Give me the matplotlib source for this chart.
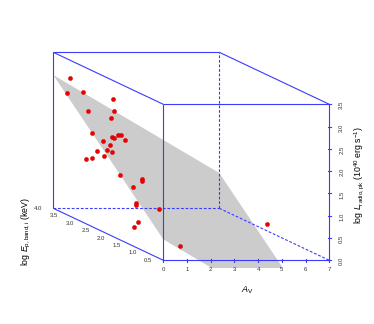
import matplotlib
matplotlib.use("Agg")
import matplotlib.pyplot as plt
from matplotlib.patches import Polygon, Rectangle
import numpy as np

plt.rcParams['font.family'] = ['Liberation Sans', 'DejaVu Sans']
plt.rcParams['mathtext.fontset'] = 'custom'
plt.rcParams['mathtext.rm'] = 'Liberation Sans'
plt.rcParams['mathtext.it'] = 'Liberation Sans:italic'

# ---- data ----
av = [0.3, 0.2, 0.5, 0.4, 0.3, 0.6, 0.3, 0.2, 0.5, 0.3, 0.8, 0.4, 0.2, 0.1, 0.3, 0.6,
      0.2, 0.4, 0.1, 0.3, 0.5, 0.3, 0.2, 0.7, 0.4, 0.3, 0.6, 0.3, 0.4, 0.2, 1.0, 6.1]
log_ep = [3.69, 3.71, 3.43, 2.40, 3.11, 2.51, 2.40, 2.92, 2.50, 2.29, 2.55, 2.14, 1.86, 2.49,
          2.42, 2.73, 2.28, 2.92, 2.84, 3.18, 2.77, 2.09, 1.34, 1.70, 1.77, 1.59, 1.82, 0.85,
          1.61, 1.57, 0.71, 1.79]
log_lr = [3.02, 2.69, 2.81, 2.99, 2.49, 2.69, 2.55, 2.06, 2.10, 2.15, 2.12, 2.26, 2.25, 2.02,
          1.95, 1.74, 1.84, 1.65, 1.52, 1.38, 1.58, 1.38, 1.54, 1.39, 1.23, 0.92, 0.79, 1.03,
          0.48, 0.40, 0.26, 0.38]

# fitted plane: log L = c0 + c_av * Av + c_e * log E
plane_c0, plane_cav, plane_ce = 0.11, -0.314, 0.72

av_lim = (0, 7)
ep_lim = (0.5, 4.0)
lr_lim = (0.0, 3.5)
av_ticks = [0, 1, 2, 3, 4, 5, 6, 7]
ep_ticks = [0.5, 1.0, 1.5, 2.0, 2.5, 3.0, 3.5, 4.0]
lr_ticks = [0.0, 0.5, 1.0, 1.5, 2.0, 2.5, 3.0, 3.5]

# ---- projection (pixel space of a 374x324 canvas) ----
W, H = 374, 324
ORIG = (163.3, 260.3)      # Av=0, E=0.5, L=0
UX = 166.0 / 7.0           # px per Av unit
UZ = 156.0 / 3.5           # px per log L unit
DX, DY = -110.0 / 3.5, -52.0 / 3.5   # px per log E unit (depth)


def proj(a, e, l):
    a = np.asarray(a, float); e = np.asarray(e, float); l = np.asarray(l, float)
    x = ORIG[0] + UX * (a - av_lim[0]) + DX * (e - ep_lim[0])
    y = ORIG[1] - UZ * (l - lr_lim[0]) + DY * (e - ep_lim[0])
    return x, y


fig = plt.figure(figsize=(W / 100, H / 100), dpi=100)
ax = fig.add_axes([0, 0, 1, 1])
ax.set_xlim(0, W)
ax.set_ylim(H, 0)
ax.axis('off')

# ---- plane ----
corners = [(av_lim[0], ep_lim[1]), (av_lim[1], ep_lim[1]), (av_lim[1], ep_lim[0]), (av_lim[0], ep_lim[0])]
pa = [c[0] for c in corners]
pe = [c[1] for c in corners]
pl = [plane_c0 + plane_cav * a + plane_ce * e for a, e in corners]
px, py = proj(pa, pe, pl)
poly = Polygon(np.column_stack([px, py]), closed=True, facecolor='#cccccc', edgecolor='none', zorder=1)
ax.add_patch(poly)
clip = Rectangle((0, 0), W, 268.3, transform=ax.transData)
poly.set_clip_path(clip)

# ---- box ----
blue = '#3a3aff'
lw = 0.8
a0, a1 = av_lim
e0, e1 = ep_lim
l0, l1 = lr_lim


def seg(p, q, dashed=False):
    x, y = proj([p[0], q[0]], [p[1], q[1]], [p[2], q[2]])
    ax.plot(x, y, color=blue, lw=lw, ls=(0, (2.5, 1.6)) if dashed else '-', zorder=2,
            solid_capstyle='butt')

# dashed hidden edges
seg((a0, e1, l0), (a1, e1, l0), True)
seg((a1, e1, l0), (a1, e1, l1), True)
seg((a1, e1, l0), (a1, e0, l0), True)
# solid edges
seg((a0, e0, l0), (a1, e0, l0))
seg((a1, e0, l0), (a1, e0, l1))
seg((a1, e0, l1), (a0, e0, l1))
seg((a0, e0, l1), (a0, e0, l0))
seg((a0, e1, l1), (a1, e1, l1))
seg((a0, e1, l1), (a0, e1, l0))
seg((a0, e1, l1), (a0, e0, l1))
seg((a1, e1, l1), (a1, e0, l1))
seg((a0, e1, l0), (a0, e0, l0))

# ---- points ----
sx, sy = proj(av, log_ep, log_lr)
ax.scatter(sx, sy, s=9, c='#ee0000', edgecolors='#cc0000', linewidths=0.3, zorder=3)

# ---- ticks and labels ----
tfs = 4.3
tc = '#333333'
for t in av_ticks:
    x, y = proj(t, e0, l0)
    ax.plot([x, x], [y - 1.6, y + 1.6], color=blue, lw=lw, zorder=2)
    ax.text(x, y + 9, f"{t:d}", fontsize=tfs, ha='center', va='center', color=tc)
for t in lr_ticks:
    x, y = proj(a1, e0, t)
    ax.plot([x - 1.6, x + 1.6], [y, y], color=blue, lw=lw, zorder=2)
    ax.text(x + 12.4, y + 1.0, f"{t:.1f}", fontsize=tfs, ha='center', va='center',
            rotation=90, color=tc)
for t in ep_ticks:
    x, y = proj(a0, t, l0)
    ax.text(x - 15, y, f"{t:.1f}", fontsize=tfs, ha='center', va='center', color=tc)

ax.text(247, 290, r'$A_{\rm V}$', fontsize=6.5, ha='center', va='center')
ax.text(26, 232, r'log $E_{\rm p,band,i}$ (keV)', fontsize=6.3, ha='center', va='center',
        rotation=90)
ax.text(359, 175, r'log $L_{\rm radio,pk}$ (10$^{40}$ erg s$^{-1}$)', fontsize=6.3,
        ha='center', va='center', rotation=90)

fig.savefig('out.png', dpi=100)
